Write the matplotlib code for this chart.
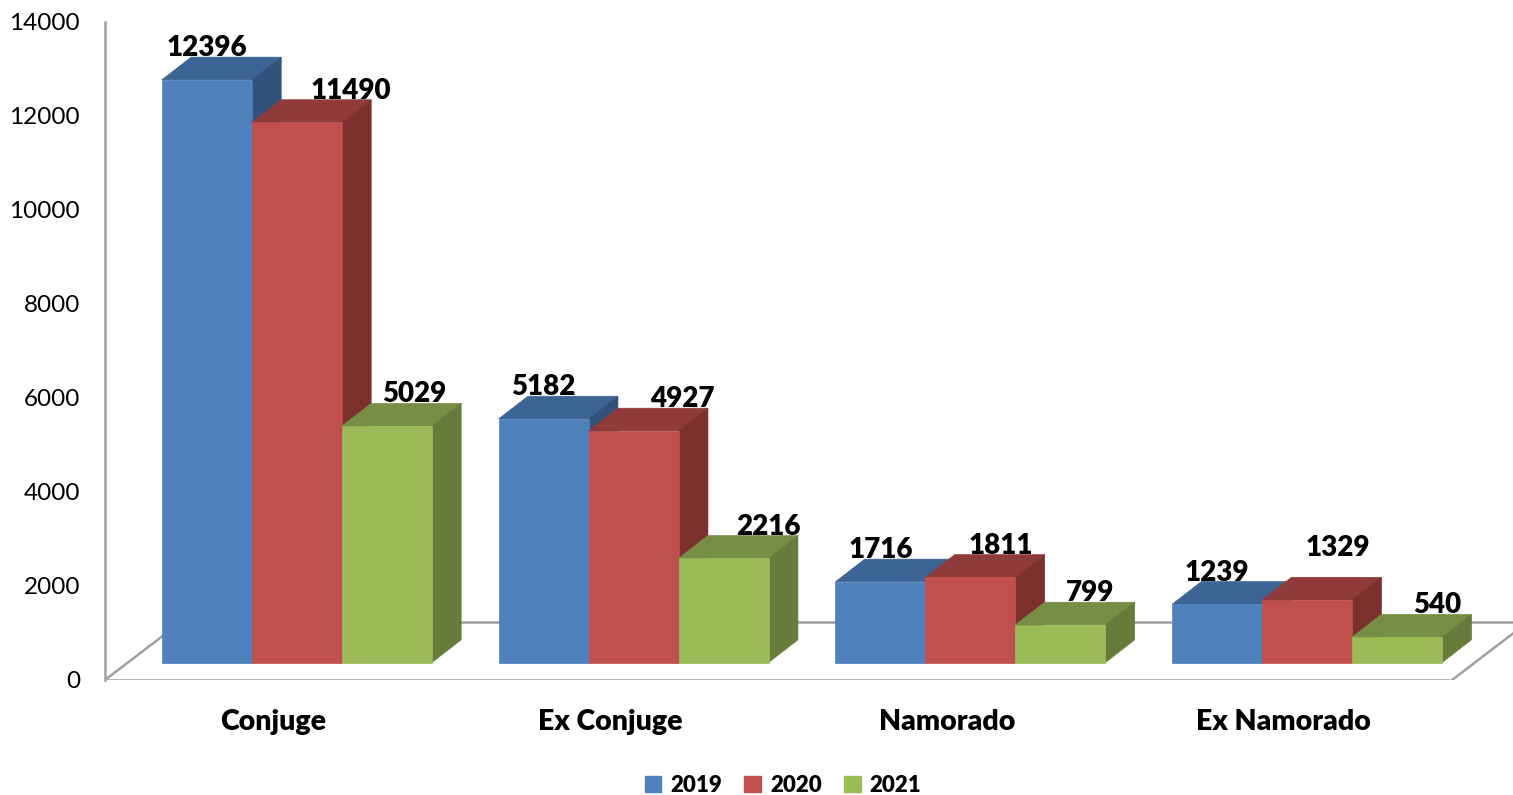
import matplotlib
matplotlib.use("Agg")
import matplotlib.pyplot as plt
from matplotlib.patches import Polygon, Patch

# ---------------- data ----------------
categories = ["Conjuge", "Ex Conjuge", "Namorado", "Ex Namorado"]
series_names = ["2019", "2020", "2021"]
values_2019 = [12396, 5182, 1716, 1239]
values_2020 = [11490, 4927, 1811, 1329]
values_2021 = [5029, 2216, 799, 540]
y_ticks = [0, 2000, 4000, 6000, 8000, 10000, 12000, 14000]

# ---------------- style ----------------
FRONT = ["#4F81BD", "#C0504D", "#9BBB59"]
TOP = ["#3C6494", "#8F3B3A", "#778F45"]
SIDE = ["#31527A", "#7B302E", "#677B3A"]
FONT = ["Lato", "DejaVu Sans"]
plt.rcParams["font.family"] = FONT
BOLD = "heavy"

W, H, DPI = 1513, 795, 100
fig = plt.figure(figsize=(W / DPI, H / DPI), dpi=DPI)

# axes geometry in pixels
AX_LEFT_PX, AX_BOTTOM_PX, AX_TOP_PX = 105, 680, 22
UX = 336.75                     # px per category
YMAX = 14000
UY = (AX_BOTTOM_PX - AX_TOP_PX) / YMAX   # px per value unit
ax = fig.add_axes([AX_LEFT_PX / W, (H - AX_BOTTOM_PX) / H,
                   (W - AX_LEFT_PX) / W, (AX_BOTTOM_PX - AX_TOP_PX) / H])
ax.set_xlim(-0.5, -0.5 + (W - AX_LEFT_PX) / UX)
ax.set_ylim(0, YMAX)

def px_x(p):
    return p / UX

def px_y(p):
    return p / UY

# 3D-ish geometry (pixels converted to data units)
BAR_W = px_x(90)
FRONT_SHIFT_X = px_x(23.5)
BASE_Y = px_y(17.5)
DEP_X = px_x(29.3)
DEP_Y = px_y(22.7)
FLOOR_DX = px_x(76)
FLOOR_DY = px_y(58)

# floor
gray = "#a0a0a0"
n = len(categories)
fx0, fx1 = -0.5, n - 0.5
floor_kw = dict(color=gray, lw=1.8, zorder=1, solid_capstyle="butt")
ax.plot([fx0, fx1], [0, 0], **floor_kw)
ax.plot([fx0, fx0 + FLOOR_DX], [0, FLOOR_DY], **floor_kw)
ax.plot([fx1, fx1 + FLOOR_DX], [0, FLOOR_DY], **floor_kw)
ax.plot([fx0 + FLOOR_DX, fx1 + FLOOR_DX], [FLOOR_DY, FLOOR_DY], **floor_kw)

# label nudges (px) per series, per category
LABEL_NUDGE_X = [[0, 0, 0, 0], [54, 49, 30, 31], [27, 45, 30, 40]]
LABEL_NUDGE_Y = [[0, 0, 0, 0], [0, 0, 0, 20], [0, 0, 0, 0]]

all_values = [values_2019, values_2020, values_2021]
z = 2
for ci in range(n):
    for si, vals in enumerate(all_values):
        v = vals[ci]
        x0 = ci + FRONT_SHIFT_X - 1.5 * BAR_W + si * BAR_W
        x1 = x0 + BAR_W
        y0 = BASE_Y
        y1 = BASE_Y + v
        top = Polygon([(x0, y1), (x1, y1), (x1 + DEP_X, y1 + DEP_Y), (x0 + DEP_X, y1 + DEP_Y)],
                      closed=True, facecolor=TOP[si], edgecolor=TOP[si], lw=0.5, zorder=z)
        side = Polygon([(x1, y0), (x1 + DEP_X, y0 + DEP_Y), (x1 + DEP_X, y1 + DEP_Y), (x1, y1)],
                       closed=True, facecolor=SIDE[si], edgecolor=SIDE[si], lw=0.5, zorder=z)
        front = Polygon([(x0, y0), (x1, y0), (x1, y1), (x0, y1)],
                        closed=True, facecolor=FRONT[si], edgecolor=FRONT[si], lw=0.5, zorder=z + 0.5)
        ax.add_patch(top)
        ax.add_patch(side)
        ax.add_patch(front)
        z += 1
        lx = (x0 + x1) / 2 + px_x(LABEL_NUDGE_X[si][ci])
        ly = y1 + DEP_Y + px_y(LABEL_NUDGE_Y[si][ci]) + px_y(1)
        ax.text(lx, ly, f"{v}", ha="center", va="baseline", fontsize=20,
                fontweight=BOLD, color="black", zorder=100)

# category labels
for ci, c in enumerate(categories):
    ax.text(ci, -px_y(42), c, ha="center", va="center", fontsize=20.5,
            fontweight=BOLD, color="black", clip_on=False)

# axes styling
for s in ["top", "right", "bottom"]:
    ax.spines[s].set_visible(False)
ax.spines["left"].set_color(gray)
ax.spines["left"].set_linewidth(1.8)
ax.set_xticks([])
ax.set_yticks(y_ticks)
ax.set_yticklabels([str(t) for t in y_ticks])
ax.tick_params(axis="y", length=0, pad=18, labelsize=17.5, labelcolor="black")
ax.patch.set_alpha(0)

# legend
handles = [Patch(facecolor=FRONT[i], edgecolor=FRONT[i], label=series_names[i]) for i in range(3)]
leg = fig.legend(handles=handles, loc="center", bbox_to_anchor=(783 / W, (H - 785.5) / H),
                 ncol=3, frameon=False, handlelength=0.75, handleheight=0.75,
                 handletextpad=0.4, columnspacing=1.0,
                 prop={"family": FONT, "weight": BOLD, "size": 16})

fig.savefig("out.png", dpi=DPI)
